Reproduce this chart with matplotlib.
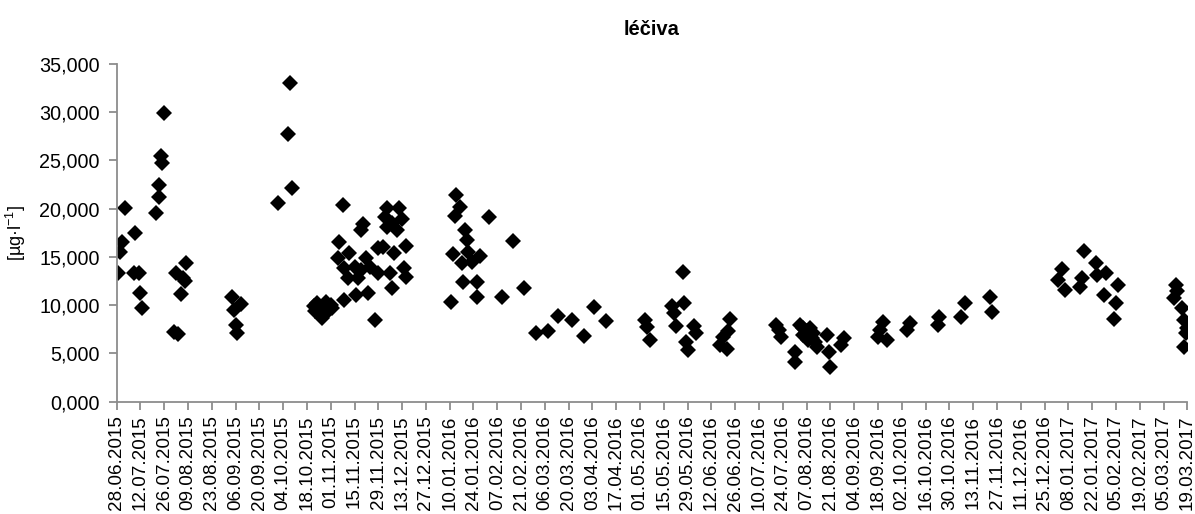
import matplotlib
matplotlib.use("Agg")
import matplotlib.pyplot as plt
import matplotlib.dates as mdates
from matplotlib.ticker import FuncFormatter
import pandas as pd

plt.rcParams['font.family'] = ['Liberation Sans', 'DejaVu Sans']

title = "léčiva"
y_label = "[µg·l$^{\\mathregular{-1}}$]"

sample_dates = [
    "2015-06-29", "2015-06-30", "2015-07-01", "2015-07-03", "2015-07-08", "2015-07-09",
    "2015-07-11", "2015-07-12", "2015-07-13", "2015-07-21", "2015-07-23", "2015-07-23",
    "2015-07-24", "2015-07-25", "2015-07-26", "2015-08-01", "2015-08-02", "2015-08-03",
    "2015-08-05", "2015-08-06", "2015-08-07", "2015-08-08",
    "2015-09-04", "2015-09-05", "2015-09-06", "2015-09-07", "2015-09-09",
    "2015-10-01", "2015-10-07", "2015-10-08", "2015-10-09",
    "2015-10-22", "2015-10-23", "2015-10-24", "2015-10-26", "2015-10-27", "2015-10-27",
    "2015-10-29", "2015-10-30", "2015-11-01", "2015-11-02",
    "2015-11-05", "2015-11-06", "2015-11-08", "2015-11-09", "2015-11-09", "2015-11-11",
    "2015-11-12", "2015-11-15", "2015-11-16", "2015-11-17", "2015-11-19", "2015-11-19",
    "2015-11-20", "2015-11-22", "2015-11-23", "2015-11-24", "2015-11-27", "2015-11-29",
    "2015-11-29", "2015-12-02", "2015-12-03", "2015-12-04", "2015-12-04", "2015-12-06",
    "2015-12-07", "2015-12-07", "2015-12-08", "2015-12-10", "2015-12-11", "2015-12-13",
    "2015-12-14", "2015-12-15", "2015-12-15",
    "2016-01-11", "2016-01-12", "2016-01-13", "2016-01-14", "2016-01-16", "2016-01-17",
    "2016-01-18", "2016-01-19", "2016-01-20", "2016-01-21", "2016-01-23", "2016-01-26",
    "2016-01-26", "2016-01-28", "2016-02-02", "2016-02-10", "2016-02-16", "2016-02-23",
    "2016-03-01", "2016-03-08", "2016-03-14", "2016-03-22", "2016-03-29", "2016-04-04",
    "2016-04-11",
    "2016-05-04", "2016-05-05", "2016-05-07", "2016-05-20", "2016-05-21", "2016-05-22",
    "2016-05-26", "2016-05-27", "2016-05-28", "2016-05-29", "2016-06-02", "2016-06-03",
    "2016-06-17", "2016-06-19", "2016-06-21", "2016-06-22", "2016-06-23",
    "2016-07-20", "2016-07-22", "2016-07-23", "2016-07-31", "2016-07-31", "2016-08-03",
    "2016-08-05", "2016-08-07", "2016-08-08", "2016-08-09", "2016-08-10", "2016-08-12",
    "2016-08-13", "2016-08-19", "2016-08-20", "2016-08-21", "2016-08-27", "2016-08-29",
    "2016-08-05", "2016-08-09", "2016-08-11",
    "2016-09-18", "2016-09-19", "2016-09-21", "2016-09-23", "2016-10-05", "2016-10-07",
    "2016-10-23", "2016-10-24", "2016-11-06", "2016-11-08", "2016-11-23", "2016-11-24",
    "2017-01-02", "2017-01-04", "2017-01-06", "2017-01-15", "2017-01-16", "2017-01-17",
    "2017-01-24", "2017-01-25", "2017-01-29", "2017-01-30", "2017-02-04", "2017-02-05",
    "2017-02-06",
    "2017-03-11", "2017-03-12", "2017-03-13", "2017-03-16", "2017-03-17", "2017-03-17",
    "2017-03-18", "2017-03-19",
]

concentration = [
    13.30, 15.55, 16.58, 20.11, 13.31, 17.52,
    13.37, 11.24, 9.68, 19.53, 22.46, 21.19,
    25.47, 24.77, 29.95, 7.26, 13.31, 7.02,
    11.13, 12.80, 12.50, 14.40,
    10.82, 9.50, 7.95, 7.09, 10.09,
    20.56, 27.78, 33.06, 22.18,
    9.90, 9.40, 10.20, 9.00, 9.60, 8.70,
    10.30, 9.30, 10.00, 9.70,
    14.86, 16.58, 20.39, 13.83, 10.54, 12.79,
    15.38, 14.00, 11.06, 12.79, 13.65, 17.80,
    18.42, 14.86, 11.24, 13.99, 8.47, 15.90,
    13.31, 16.07, 19.18, 20.04, 18.14, 13.31,
    11.75, 18.49, 15.38, 17.80, 20.04, 18.90,
    13.83, 16.14, 12.89,
    10.37, 15.30, 19.20, 21.42, 20.20, 14.34,
    12.44, 17.80, 16.76, 15.55, 14.50, 12.44,
    10.88, 15.10, 19.10, 10.82, 16.66, 11.75,
    7.15, 7.36, 8.88, 8.47, 6.84, 9.78,
    8.40,
    8.50, 7.70, 6.40, 9.95, 9.16, 7.85,
    13.41, 10.20, 6.22, 5.36, 7.85, 7.09,
    5.90, 6.74, 5.45, 7.35, 8.57,
    7.95, 7.40, 6.74, 5.18, 4.15, 7.95,
    7.60, 7.30, 6.40, 7.00, 6.60, 6.20,
    5.70, 6.95, 5.20, 3.63, 5.88, 6.57,
    6.90, 7.60, 7.10,
    6.74, 7.43, 8.29, 6.40, 7.43, 8.12,
    7.95, 8.81, 8.81, 10.20, 10.88, 9.25,
    12.61, 13.72, 11.60, 11.92, 12.79, 15.63,
    14.34, 13.13, 11.06, 13.31, 8.55, 10.23,
    12.10,
    10.72, 12.10, 11.50, 9.68, 8.47, 5.70,
    7.09, 7.60,
]

axis_start = "2015-06-28"
axis_end = "2017-03-19"
tick_step_days = 14
y_max = 35.0
y_step = 5.0

dates = pd.to_datetime(sample_dates)
start = pd.Timestamp(axis_start)
end = pd.Timestamp(axis_end)
tick_dates = pd.date_range(start, end, freq=f"{tick_step_days}D")

fig = plt.figure(figsize=(11.95, 5.14), dpi=100)
ax = fig.add_axes([0.0975, 0.2185, 0.8962, 0.657])

ax.plot(dates, concentration, linestyle="none", marker="D", markersize=8.2,
        color="black", markeredgewidth=0)

ax.set_xlim(start, end)
ax.set_ylim(0, y_max)

ax.set_xticks(tick_dates)
ax.xaxis.set_major_formatter(mdates.DateFormatter("%d.%m.%Y"))
ax.set_yticks([i * y_step for i in range(int(y_max / y_step) + 1)])
ax.yaxis.set_major_formatter(FuncFormatter(lambda v, _: f"{v:.3f}".replace(".", ",")))

for lbl in ax.get_xticklabels():
    lbl.set_rotation(90)
    lbl.set_fontsize(13.6)
for lbl in ax.get_yticklabels():
    lbl.set_fontsize(14.2)

axis_grey = "#8c8c8c"
for side in ("top", "right"):
    ax.spines[side].set_visible(False)
for side in ("left", "bottom"):
    ax.spines[side].set_color(axis_grey)
    ax.spines[side].set_linewidth(1.3)
ax.tick_params(axis="both", color=axis_grey, width=1.3, length=6, pad=4)
ax.tick_params(axis="y", pad=6)

ax.set_ylabel(y_label, fontsize=13, labelpad=8)
fig.text(0.5455, 0.942, title, ha="center", va="center", fontsize=14.5, fontweight="bold")

fig.savefig("out.png", dpi=100, facecolor="white")
